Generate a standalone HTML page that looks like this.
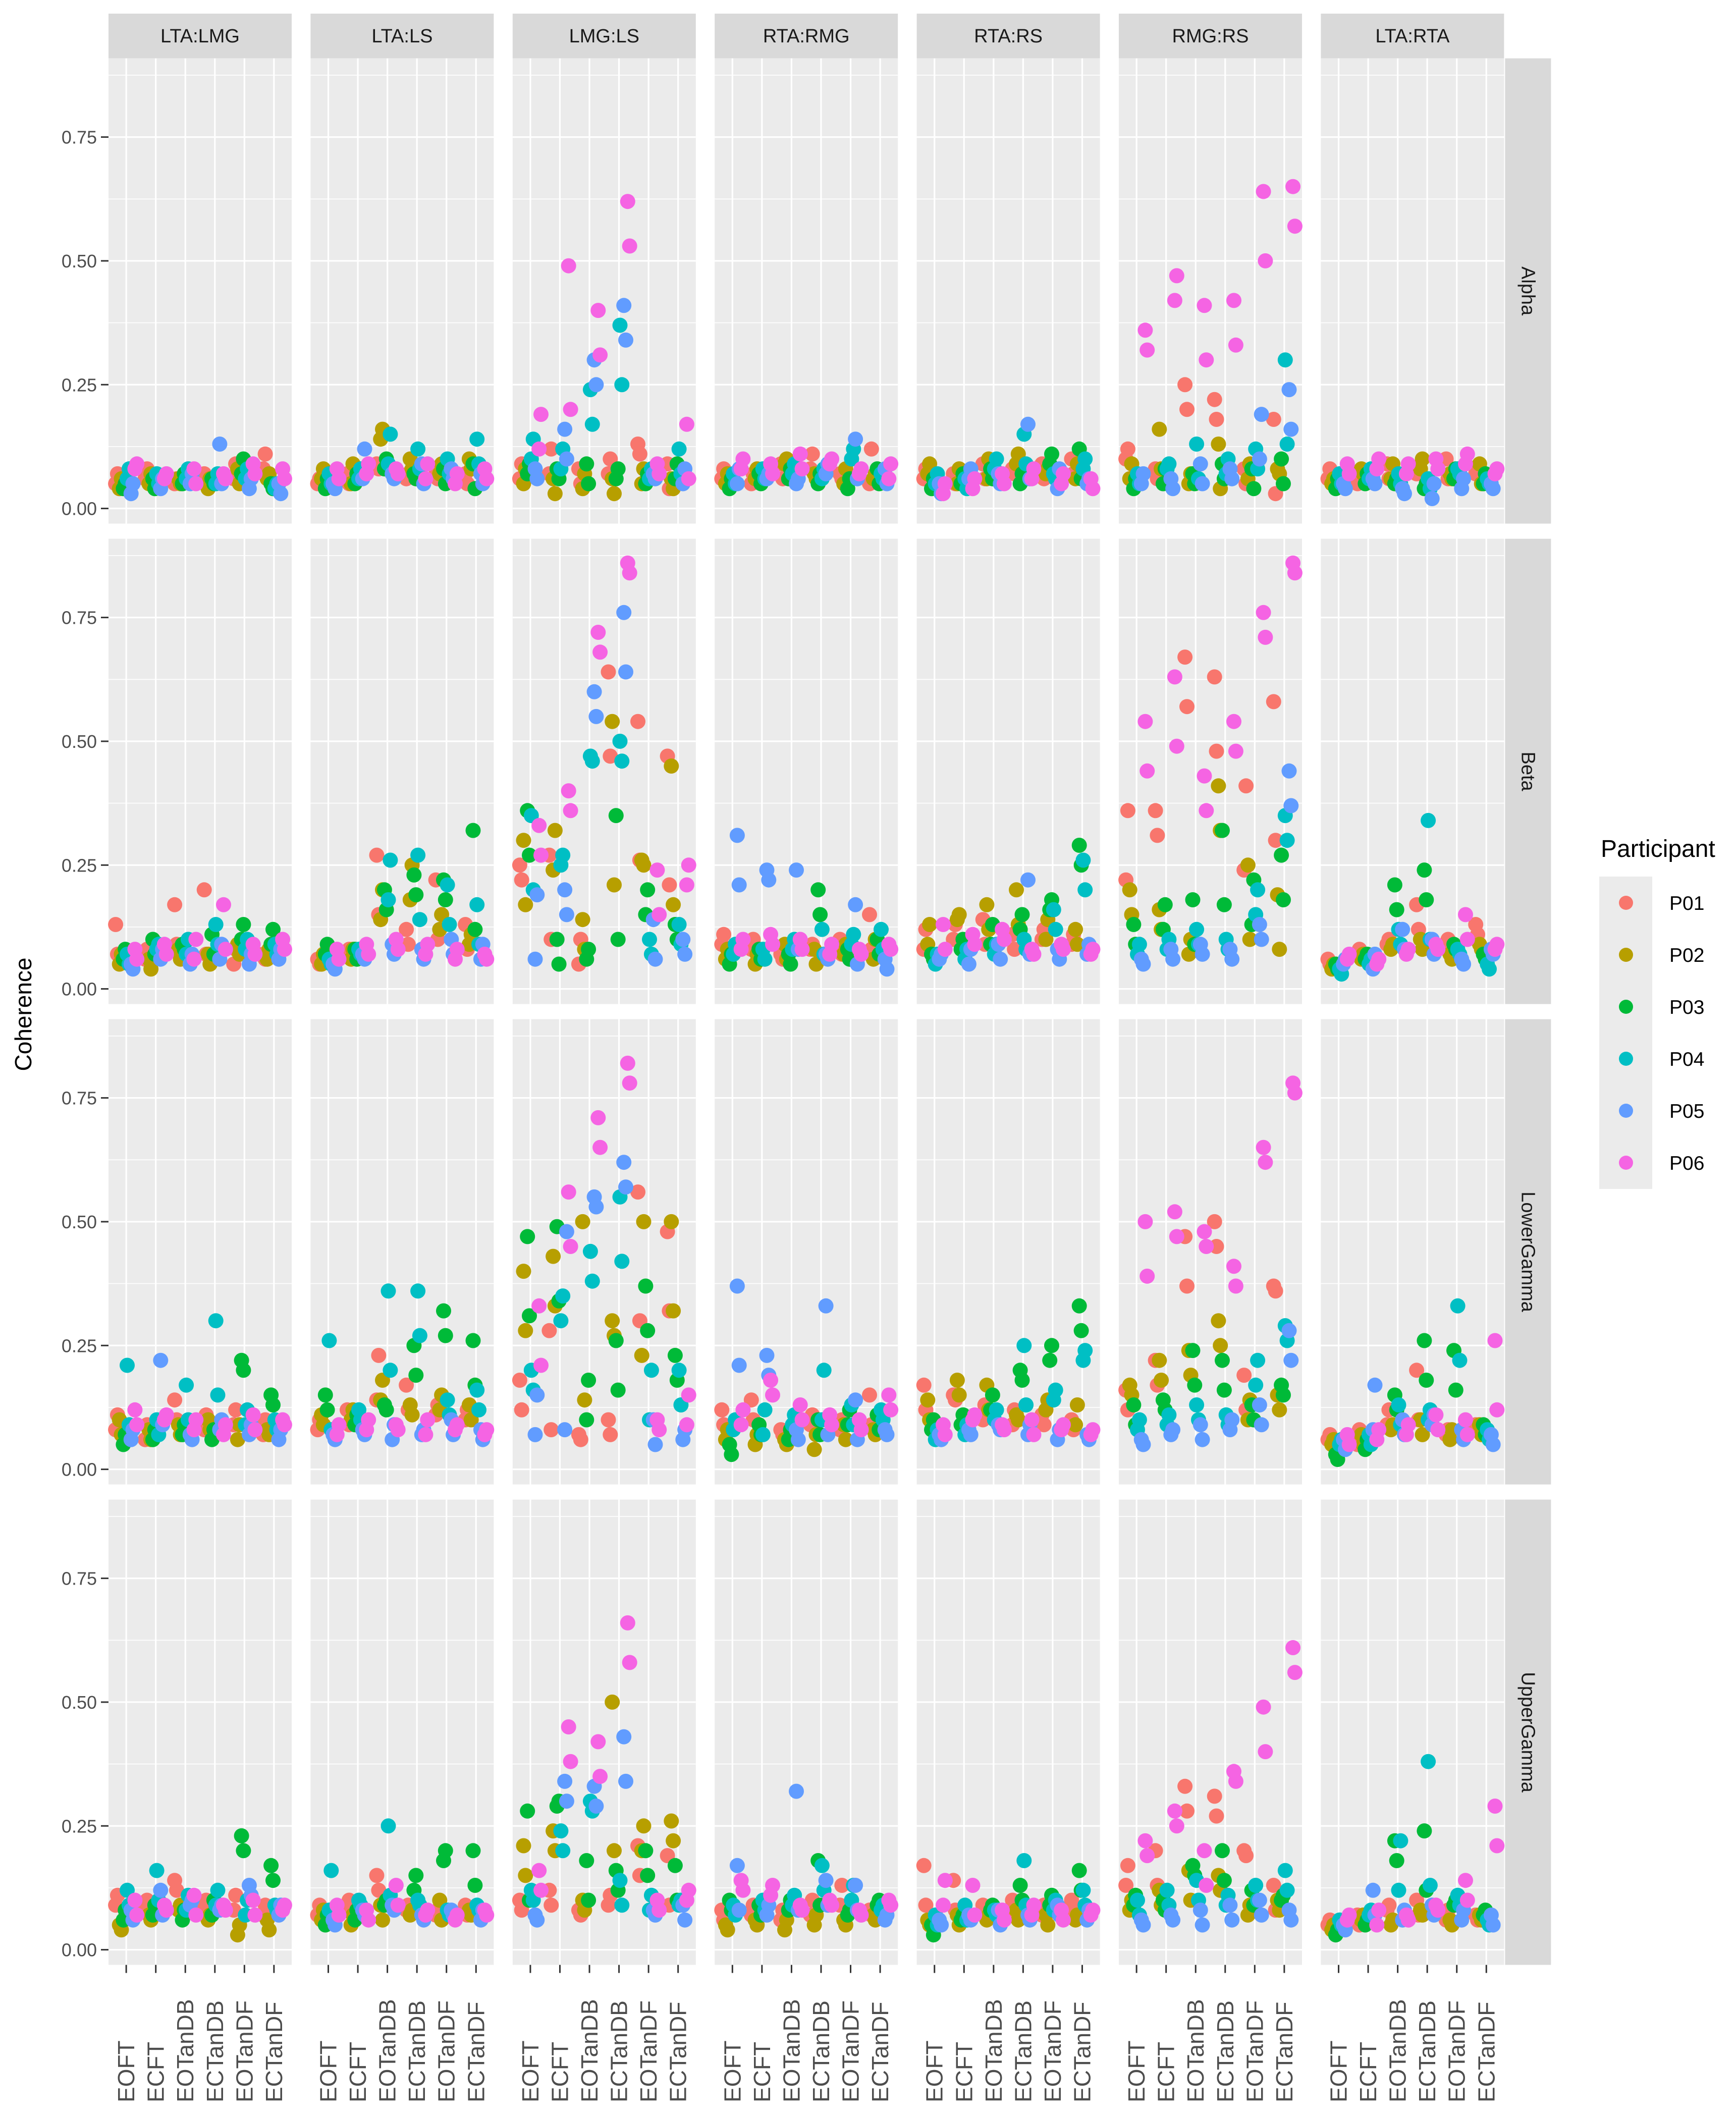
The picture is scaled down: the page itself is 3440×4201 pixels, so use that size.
<!DOCTYPE html>
<html><head><meta charset="utf-8"><style>
html,body{margin:0;padding:0;background:#fff;}
svg{display:block;font-family:"Liberation Sans",sans-serif;}
</style></head><body>
<svg id="chart" xmlns="http://www.w3.org/2000/svg" width="3440" height="4201" viewBox="0 0 3440 4201">
<rect width="3440" height="4201" fill="#fff"/>
</svg>
<script>
const pairs = ["LTA:LMG","LTA:LS","LMG:LS","RTA:RMG","RTA:RS","RMG:RS","LTA:RTA"];
const bands = ["Alpha","Beta","LowerGamma","UpperGamma"];
const conditions = ["EOFT","ECFT","EOTanDB","ECTanDB","EOTanDF","ECTanDF"];
const participants = ["P01","P02","P03","P04","P05","P06"];
const colors = ["#F8766D","#B79F00","#00BA38","#00BFC4","#619CFF","#F564E3"];
const yTicks = [0,0.25,0.5,0.75];
const yTickLabels = ["0.00","0.25","0.50","0.75"];
// values in hundredths; per panel: 6 participants x (6 conditions x 2 trials)
const alphaData = [
"5 7 6 8 5 6 7 5 6 9 8 11;4 6 5 7 6 5 4 6 8 5 6 7;4 5 6 4 5 7 6 5 7 10 5 4;6 8 7 5 6 8 5 7 6 8 4 5;3 5 4 6 5 7 13 5 4 6 5 3;8 9 6 7 8 5 7 6 9 7 8 6",
"5 6 7 5 9 8 6 7 8 6 7 5;6 8 5 9 14 16 10 8 7 9 10 8;4 6 5 7 8 10 7 6 8 5 9 4;7 5 6 8 9 15 12 8 10 7 14 9;5 4 6 12 7 6 9 5 8 6 7 5;8 6 7 9 8 7 6 9 5 7 8 6",
"6 9 7 12 8 5 7 10 13 11 9 4;5 8 6 3 4 7 6 3 5 8 6 4;7 9 8 6 9 5 6 8 5 7 6 9;10 14 8 12 24 17 37 25 6 8 12 7;8 6 16 10 30 25 41 34 7 6 5 8;12 19 49 20 40 31 62 53 9 7 17 6",
"6 8 5 7 9 6 8 11 7 6 5 12;5 7 6 8 9 10 7 6 5 8 6 7;4 6 7 5 6 8 5 7 4 6 8 5;7 5 8 6 7 9 6 8 10 12 7 6;5 8 6 7 5 6 7 9 14 6 8 5;8 10 9 7 11 8 9 10 7 8 6 9",
"6 8 7 5 9 6 8 7 9 6 10 7;7 9 5 8 6 10 9 11 7 8 6 9;4 6 5 7 8 6 5 7 9 11 12 6;5 7 6 4 8 10 15 9 7 6 8 10;5 3 6 8 7 5 17 6 4 8 5 6;3 5 4 6 7 5 6 8 5 7 6 4",
"10 12 8 6 25 20 22 18 8 5 18 3;6 9 16 8 5 7 13 4 6 9 8 7;4 6 5 8 7 5 9 6 8 4 10 5;7 5 8 9 13 6 7 10 12 8 30 13;5 7 6 4 9 5 8 6 10 19 24 16;36 32 42 47 41 30 42 33 64 50 65 57",
"6 8 5 7 9 6 7 8 10 6 7 8;5 6 8 7 6 9 8 10 7 6 9 5;4 6 5 7 5 6 4 5 6 8 5 7;7 5 6 8 7 5 6 4 8 7 6 5;5 4 6 5 4 3 2 5 4 6 5 4;9 7 8 10 7 9 10 8 9 11 7 8"];
const betaData = [
"13 7 6 8 17 9 20 7 5 8 7 6;5 7 6 4 8 6 7 5 9 7 6 8;6 8 10 7 9 8 11 7 10 13 9 12;7 5 8 9 7 10 13 9 8 10 9 7;5 4 6 8 5 7 6 9 5 7 6 8;8 6 9 7 6 10 17 8 9 7 10 8",
"6 5 7 8 27 15 12 9 22 10 13 8;5 7 6 8 14 20 18 25 12 15 9 11;7 9 8 6 20 16 23 19 22 18 32 12;6 5 8 7 18 26 27 14 21 13 17 9;5 4 7 6 9 7 8 6 10 7 6 9;8 6 9 7 10 8 7 9 6 8 7 6",
"25 22 27 10 5 10 64 47 54 26 47 21;30 17 24 32 14 8 54 21 26 25 45 17;36 27 10 5 6 8 35 10 15 20 13 10;35 20 25 27 47 46 50 46 10 7 13 9;6 19 20 15 60 55 76 64 14 6 10 7;33 27 40 36 72 68 86 84 24 15 21 25",
"9 11 8 10 7 6 8 9 10 7 15 8;6 8 5 7 9 6 8 5 7 9 6 10;5 7 8 6 7 5 20 15 8 6 10 7;7 9 8 6 8 10 12 7 9 11 12 8;31 21 24 22 24 8 7 6 17 5 6 4;8 10 11 9 10 8 7 9 8 7 9 8",
"8 12 10 13 14 9 11 8 10 12 9 11;9 13 14 15 17 12 20 13 10 14 12 9;7 6 8 10 9 13 12 15 16 18 29 25;5 7 6 8 7 9 10 8 16 12 26 20;6 7 5 8 9 6 22 7 8 6 7 9;13 8 11 9 12 10 8 7 9 8 7 8",
"22 36 36 31 67 57 63 48 24 41 58 30;20 15 16 12 7 10 41 32 25 10 19 8;13 9 12 17 18 9 32 17 13 22 27 18;7 9 8 10 12 9 10 8 15 20 35 30;6 5 8 6 9 7 8 6 13 10 44 37;54 44 63 49 43 36 54 48 76 71 86 84",
"6 5 7 8 9 10 17 12 9 10 13 11;4 5 6 7 8 9 10 8 7 6 9 8;5 4 6 7 21 16 24 18 9 8 7 6;4 3 5 6 12 9 34 10 8 7 5 4;5 6 4 7 12 8 10 7 6 5 8 7;6 7 5 6 7 8 9 8 15 10 8 9"];
const lowerGammaData = [
"8 11 6 9 14 10 8 11 9 12 7 10;10 7 8 6 9 7 10 8 6 9 8 7;5 7 6 8 7 9 6 8 22 20 15 13;21 9 10 7 17 10 30 15 9 12 10 8;6 8 22 9 7 6 8 10 7 9 6 8;12 9 10 11 8 10 7 9 11 8 10 9",
"8 10 12 9 14 23 17 12 11 13 10 12;11 9 10 12 14 18 13 11 12 15 13 10;15 12 9 11 13 12 25 19 32 27 26 17;26 8 12 10 36 20 36 27 14 11 16 12;7 6 8 7 6 9 7 8 10 7 8 6;7 9 8 10 9 8 7 10 8 9 7 8",
"18 12 28 8 7 6 10 7 56 30 48 32;40 28 43 33 50 14 30 27 23 50 50 32;47 31 49 34 10 18 26 16 37 28 23 18;20 16 30 35 44 38 55 42 10 20 20 13;7 15 8 48 55 53 62 57 10 5 6 8;33 21 56 45 71 65 82 78 10 8 9 15",
"12 9 14 10 8 7 9 11 8 10 15 9;6 8 5 7 6 5 4 7 9 6 8 7;5 3 9 7 6 8 10 7 9 12 11 8;8 10 7 12 9 11 10 20 13 9 12 10;37 21 23 19 8 6 33 7 14 6 8 7;9 12 18 15 13 10 11 9 10 8 15 12",
"17 12 15 14 10 13 9 12 11 9 10 8;14 10 18 15 17 12 11 10 12 14 9 13;8 10 9 11 12 15 20 18 22 25 33 28;6 8 7 9 10 12 25 13 14 16 22 24;7 6 8 7 9 8 7 9 6 8 7 6;9 7 10 11 9 8 10 7 8 9 7 8",
"16 12 22 17 47 37 50 45 19 12 37 36;17 15 22 18 24 19 30 25 10 14 15 12;13 9 14 12 24 17 22 16 13 10 17 15;8 10 9 11 13 10 11 9 17 22 29 26;6 5 7 8 9 6 8 10 13 9 28 22;50 39 52 47 48 45 41 37 65 62 78 76",
"6 7 5 8 9 12 20 10 7 8 9 8;5 6 7 5 8 9 10 7 6 8 9 7;3 2 4 6 15 12 26 18 24 16 9 7;5 6 7 5 13 9 10 12 33 22 8 6;6 4 8 17 10 7 9 11 8 6 7 5;7 5 6 8 7 9 11 8 10 7 26 12"];
const upperGammaData = [
"9 11 8 10 14 12 9 10 8 11 7 9;5 4 7 6 8 9 6 7 3 5 6 4;6 8 7 9 6 8 7 10 23 20 17 14;12 9 16 10 8 11 9 12 7 10 9 8;8 6 12 7 9 10 8 9 13 11 7 9;10 7 9 8 11 7 9 8 10 7 8 9",
"7 9 8 10 15 12 8 9 7 8 9 7;6 8 5 7 9 6 7 8 10 6 8 7;5 7 6 8 9 10 12 15 18 20 20 13;8 16 10 9 25 11 10 9 8 7 9 8;6 5 8 7 9 8 7 6 8 7 6 8;9 7 8 6 13 9 7 8 6 7 8 7",
"10 8 12 9 8 7 9 11 21 15 19 9;21 15 24 20 10 8 50 20 20 25 26 22;28 10 29 30 18 10 16 12 20 15 17 10;12 10 24 20 30 28 14 9 8 11 9 10;7 6 34 30 33 29 43 34 8 7 9 6;16 12 45 38 42 35 66 58 10 8 10 12",
"8 6 7 9 6 8 7 10 9 13 8 7;5 4 6 5 4 6 5 7 6 5 7 6;10 8 9 7 8 10 18 9 7 8 9 10;9 7 10 8 9 11 17 12 10 13 8 9;17 8 7 9 32 8 14 9 13 8 6 7;14 12 11 13 9 8 10 9 8 7 10 9",
"17 9 14 8 9 7 10 8 7 9 10 8;6 5 7 5 6 7 8 6 7 5 6 7;5 3 6 7 8 9 13 10 9 11 16 12;7 5 9 6 8 7 18 9 8 10 12 9;6 5 7 6 8 5 7 6 9 7 6 8;9 14 13 7 8 6 7 9 8 6 7 8",
"13 17 20 13 33 28 31 27 20 19 13 8;8 10 12 9 16 10 15 12 7 9 10 8;9 11 10 8 17 15 20 14 12 9 10 11;10 7 12 9 14 10 9 11 13 10 16 12;6 5 7 6 8 5 9 6 10 7 8 6;22 19 28 25 20 13 36 34 49 40 61 56",
"5 6 7 5 8 9 10 7 6 8 7 6;4 5 6 7 5 6 8 7 6 5 7 6;3 4 5 6 22 18 24 12 9 10 7 8;6 5 7 8 12 22 38 13 11 9 6 5;5 4 12 7 6 8 9 7 6 8 7 5;6 7 5 8 7 6 9 8 14 10 29 21"];
const bandData = [alphaData, betaData, lowerGammaData, upperGammaData];

const NS = "http://www.w3.org/2000/svg";
const svg = document.getElementById("chart");
function mk(tag, attrs, parent) {
  const e = document.createElementNS(NS, tag);
  for (const k in attrs) e.setAttribute(k, attrs[k]);
  (parent || svg).appendChild(e);
  return e;
}
const L = 215, PW = 363, PSTEP = 400.4, T = 115.6, PH = 922, RSTEP = 952;
function px(col) { return L + col * PSTEP; }
function py(row) { return T + row * RSTEP; }
function xScale(col, idx) { return px(col) + (idx + 1 - 0.4) / 6.2 * PW; }
function yScale(row, v) { return py(row) + PH - 30 - v / 0.75 * (PH - 30 - 156); }

pairs.forEach((p, c) => {
  const g = mk("g", {});
  
  
  mk("rect", {x: px(c), y: 27, width: PW, height: T - 27, fill: "#D9D9D9"}, g);
  const t = mk("text", {x: px(c) + PW / 2, y: 84, "font-size": 38, fill: "#1A1A1A", "text-anchor": "middle"}, g);
  t.textContent = p;
});
bands.forEach((b, r) => {
  const g = mk("g", {});
  
  
  mk("rect", {x: px(6) + PW + 2, y: py(r), width: 91, height: PH, fill: "#D9D9D9"}, g);
  const cx = px(6) + PW + 2 + 45, cy = py(r) + PH / 2;
  const t = mk("text", {x: cx, y: cy, "font-size": 38, fill: "#1A1A1A", "text-anchor": "middle", "dominant-baseline": "central", transform: `rotate(90 ${cx} ${cy})`}, g);
  t.textContent = b;
});

for (let r = 0; r < 4; r++) {
  for (let c = 0; c < 7; c++) {
    const g = mk("g", {});
    
    
    mk("rect", {x: px(c), y: py(r), width: PW, height: PH, fill: "#EBEBEB"}, g);
    for (let i = 0; i < yTicks.length; i++) {
      const y = yScale(r, yTicks[i] + 0.125);
      if (y > py(r)) mk("line", {x1: px(c), x2: px(c) + PW, y1: y, y2: y, stroke: "#fff", "stroke-width": 1.6}, g);
    }
    yTicks.forEach(v => {
      const y = yScale(r, v);
      mk("line", {x1: px(c), x2: px(c) + PW, y1: y, y2: y, stroke: "#fff", "stroke-width": 3.2}, g);
    });
    conditions.forEach((cn, i) => {
      const x = xScale(c, i);
      mk("line", {x1: x, x2: x, y1: py(r), y2: py(r) + PH, stroke: "#fff", "stroke-width": 3.2}, g);
    });
    const rows = bandData[r][c].split(";");
    rows.forEach((s, p) => {
      const vals = s.trim().split(/\s+/).map(Number);
      vals.forEach((v, k) => {
        const ci = Math.floor(k / 2), rep = k % 2;
        const off = ((p * 2 + rep) / 11 - 0.5) * 0.72;
        const x = px(c) + (ci + 1 + off - 0.4) / 6.2 * PW;
        const pt = mk("circle", {cx: x.toFixed(1), cy: yScale(r, v / 100).toFixed(1), r: 15, fill: colors[p]}, g);
        
        
      });
    });
  }
  const ya = mk("g", {});
  
  
  yTicks.forEach((v, i) => {
    const y = yScale(r, v);
    mk("line", {x1: 200, x2: 215, y1: y, y2: y, stroke: "#333", "stroke-width": 3}, ya);
    const t = mk("text", {x: 192, y: y + 13, "font-size": 36, fill: "#4D4D4D", "text-anchor": "end"}, ya);
    t.textContent = yTickLabels[i];
  });
}
for (let c = 0; c < 7; c++) {
  const xa = mk("g", {});
  
  
  const yb = py(3) + PH;
  conditions.forEach((cn, i) => {
    const x = xScale(c, i);
    mk("line", {x1: x, x2: x, y1: yb, y2: yb + 16, stroke: "#333", "stroke-width": 3}, xa);
    const tx = x + 16, ty = 4166;
    const t = mk("text", {x: tx, y: ty, "font-size": 46, fill: "#4D4D4D", transform: `rotate(-90 ${tx} ${ty})`}, xa);
    t.textContent = cn;
  });
}
{
  const t = mk("text", {x: 62, y: 2010, "font-size": 46, fill: "#000", "text-anchor": "middle", transform: "rotate(-90 62 2010)"});
  
  
  t.textContent = "Coherence";
}
{
  const lg = mk("g", {});
  
  
  const tt = mk("text", {x: 3172, y: 1698, "font-size": 48, fill: "#000"}, lg);
  tt.textContent = "Participant";
  mk("rect", {x: 3169, y: 1737, width: 105, height: 619, fill: "#EBEBEB"}, lg);
  participants.forEach((p, i) => {
    const e = mk("g", {}, lg);
    
    
    const y = 1789 + i * 103;
    mk("circle", {cx: 3222, cy: y, r: 14, fill: colors[i]}, e);
    const t = mk("text", {x: 3308, y: y + 14, "font-size": 39, fill: "#000"}, e);
    t.textContent = p;
  });
}
</script>
</body></html>
